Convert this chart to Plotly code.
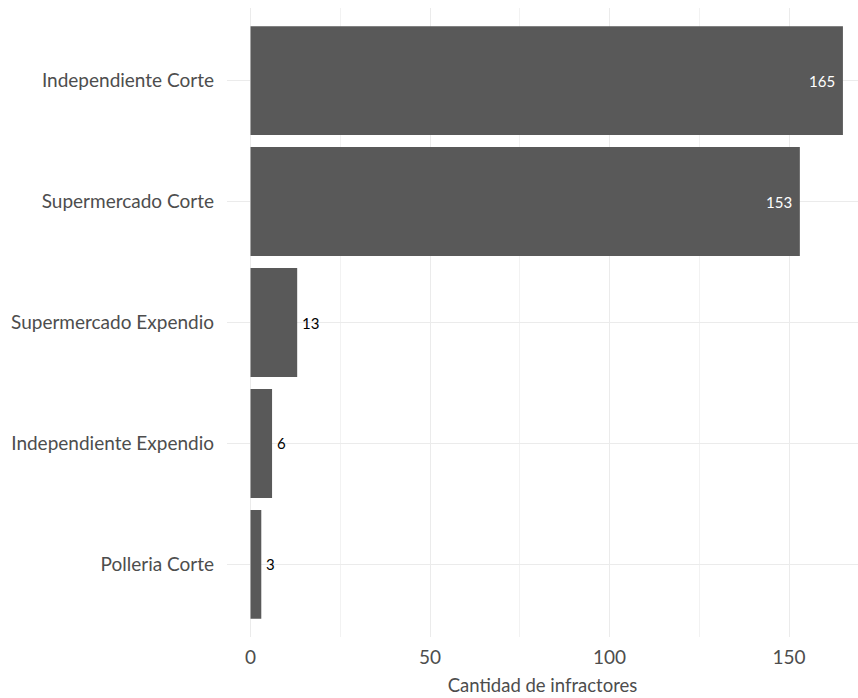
import plotly.graph_objects as go

# Data: infractor counts per establishment type
categorias = [
    "Independiente Corte",
    "Supermercado Corte",
    "Supermercado Expendio",
    "Independiente Expendio",
    "Polleria Corte",
]
cantidades = [165, 153, 13, 6, 3]
x_ticks = [0, 50, 100, 150]

BAR = "#595959"
TXT = "#4d4d4d"
GRID = "#ebebeb"
FONT = "Lato"

fig = go.Figure(
    go.Bar(
        x=cantidades,
        y=categorias,
        orientation="h",
        width=0.9,
        marker=dict(color=BAR, line=dict(width=0)),
        hoverinfo="skip",
    )
)

# Value labels: white inside the long bars, black just past the short ones
for cat, val in zip(categorias, cantidades):
    inside = val > 50
    fig.add_annotation(
        x=val,
        y=cat,
        text=str(val),
        showarrow=False,
        xanchor="right" if inside else "left",
        xshift=-6 if inside else 3,
        font=dict(family=FONT, size=15, color="white" if inside else "black"),
    )

fig.update_layout(
    width=858,
    height=698,
    margin=dict(l=227, r=0, t=8, b=61),
    plot_bgcolor="white",
    paper_bgcolor="white",
    font=dict(family=FONT, color=TXT, size=19),
    showlegend=False,
)

fig.update_xaxes(
    range=[-6.55, 169.2],
    tickvals=x_ticks,
    ticktext=[str(t) for t in x_ticks],
    showgrid=True,
    gridcolor=GRID,
    gridwidth=1.3,
    minor=dict(dtick=25, tick0=0, showgrid=True, gridcolor="#f2f2f2", gridwidth=1),
    zeroline=False,
    showline=False,
    ticks="",
    ticklabelstandoff=7,
    tickfont=dict(size=19, color=TXT),
    title=dict(text="Cantidad de infractores", font=dict(size=18.5, color=TXT), standoff=12),
)

fig.update_yaxes(
    categoryorder="array",
    categoryarray=categorias,
    range=[4.6, -0.6],
    showgrid=True,
    gridcolor=GRID,
    gridwidth=1.3,
    zeroline=False,
    showline=False,
    ticks="",
    ticklabelstandoff=12,
    tickfont=dict(size=19, color=TXT),
)

fig.write_html("out.html")
